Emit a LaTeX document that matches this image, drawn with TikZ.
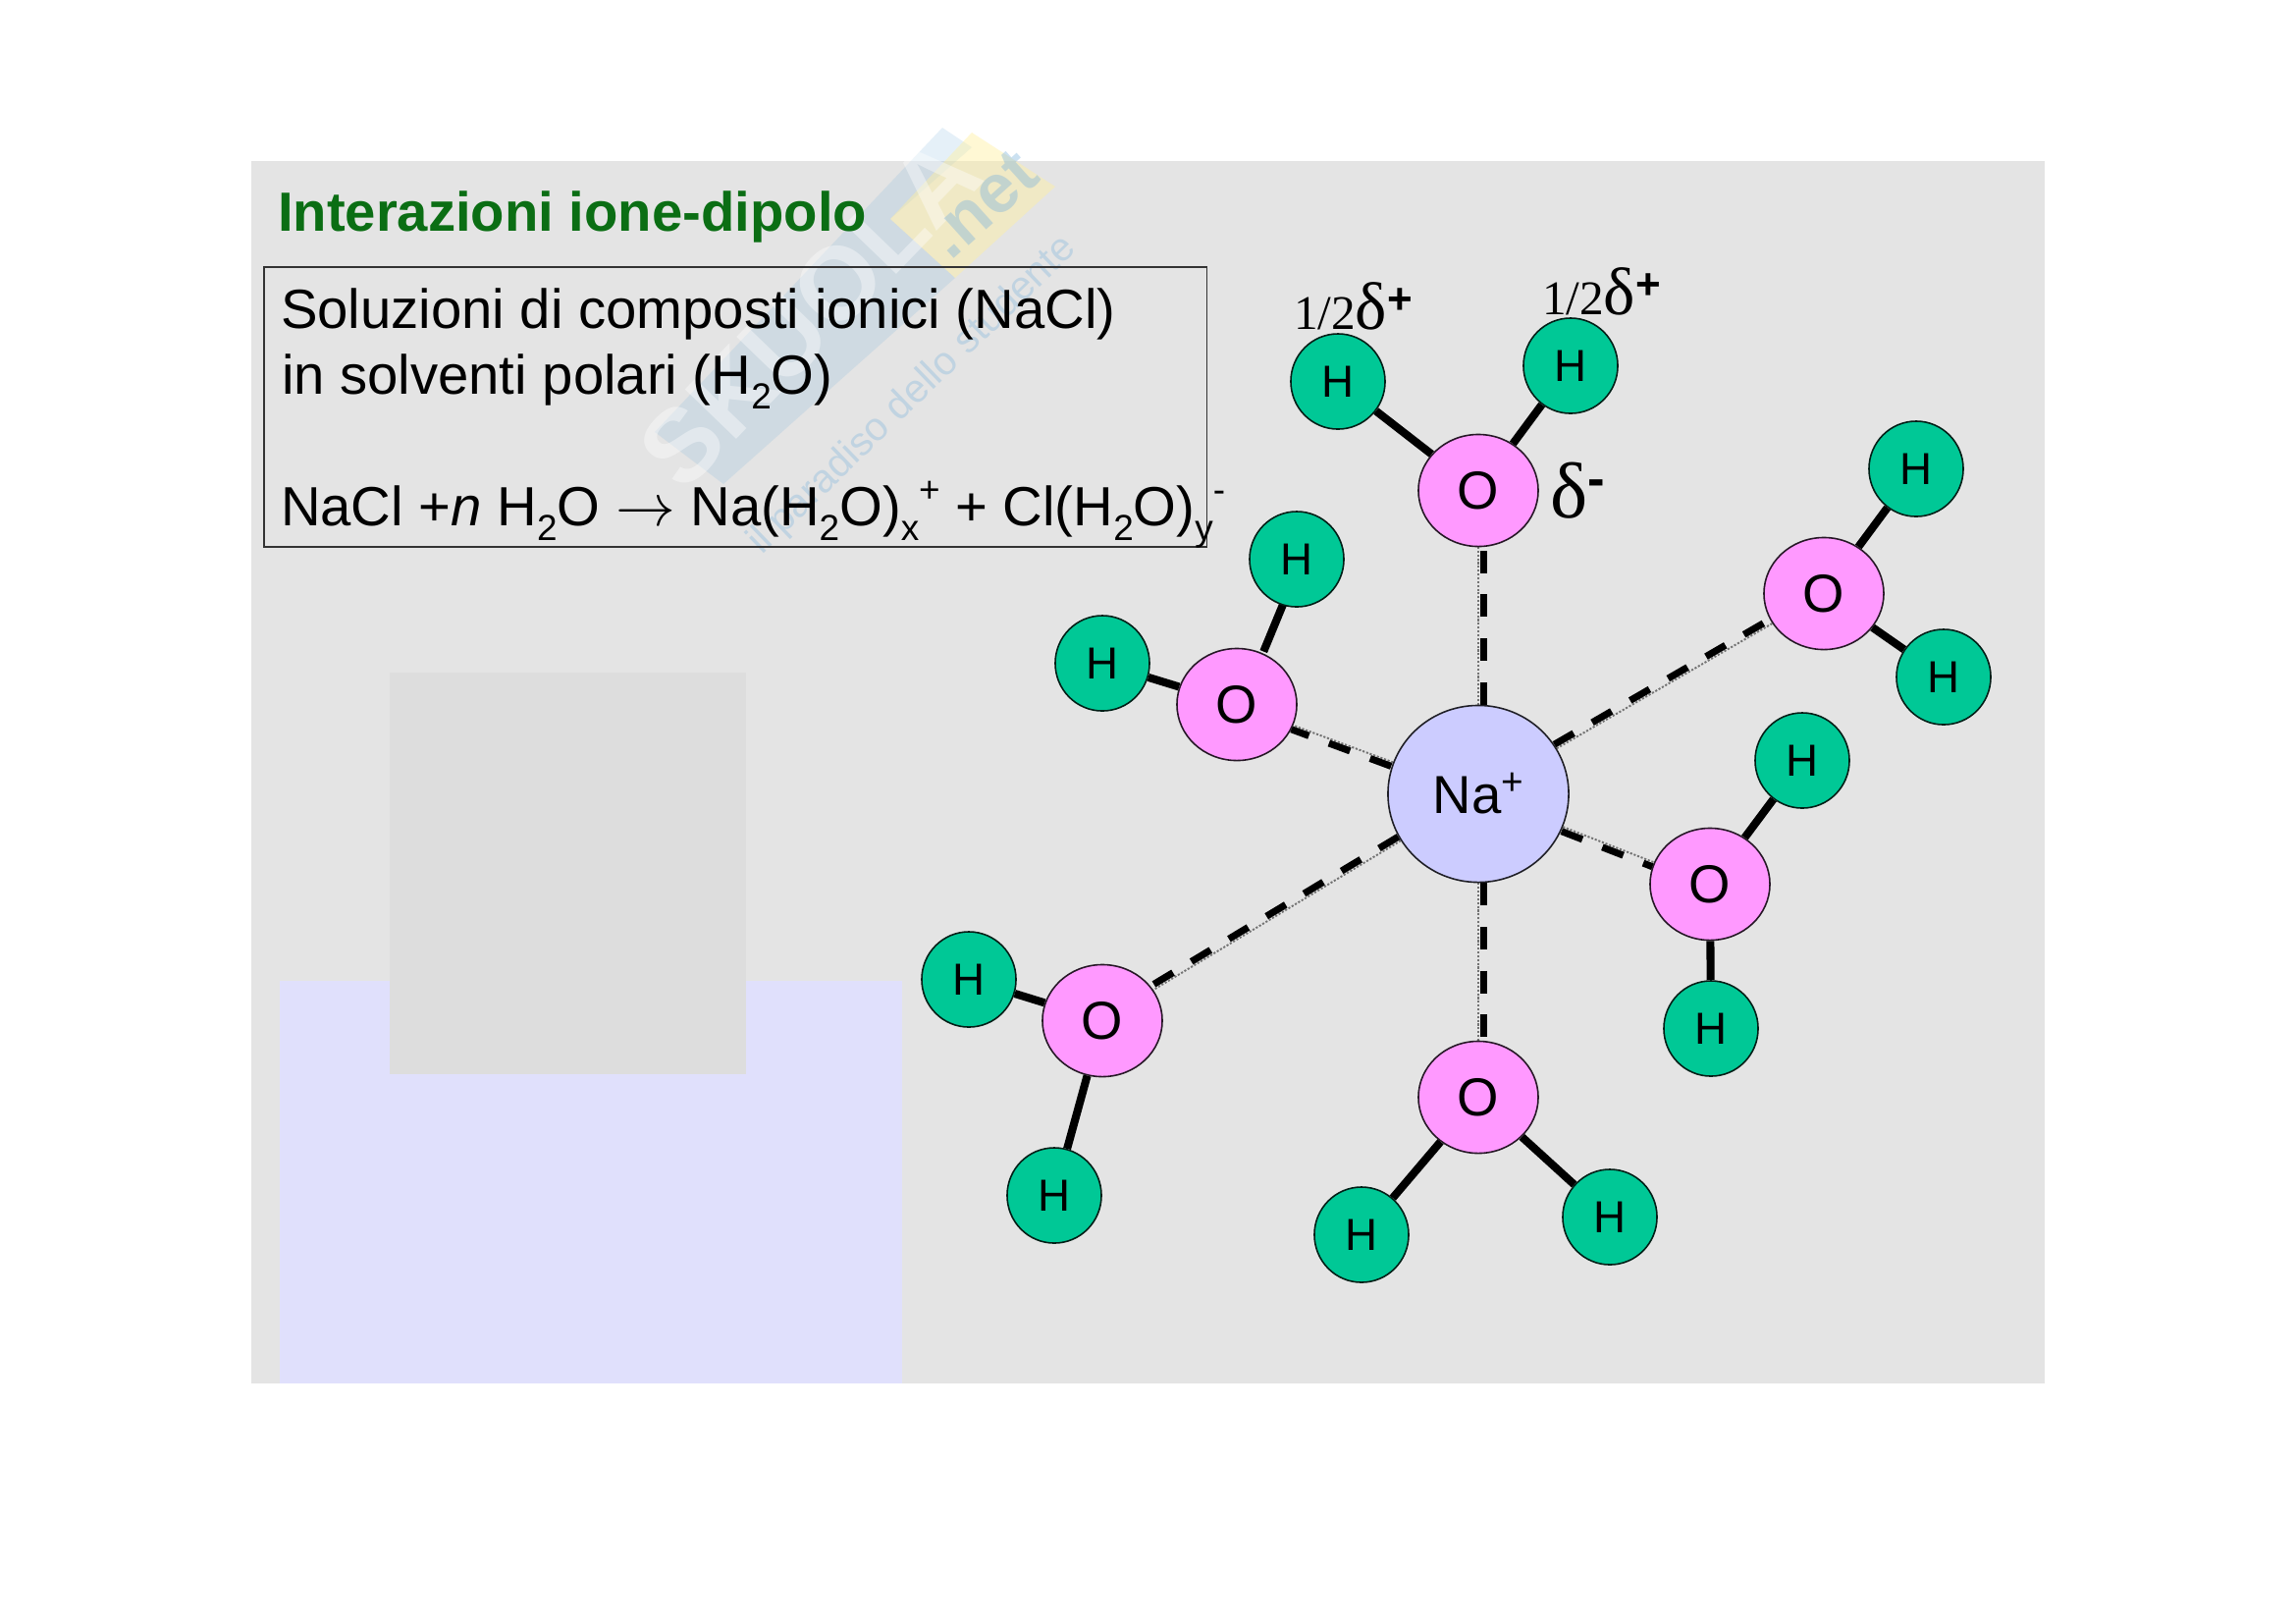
\documentclass[tikz,border=0pt]{standalone}
\usepackage{fontspec}
\setmainfont{Liberation Sans}
\newfontfamily\tms{Liberation Serif}
\usetikzlibrary{shapes.geometric}
\pgfdeclarelayer{backlayer}
\pgfdeclarelayer{bondlayer}
\pgfsetlayers{backlayer,bondlayer,main}
\definecolor{panelc}{HTML}{E4E4E4}
\definecolor{innerc}{HTML}{DDDDDD}
\definecolor{bluec}{HTML}{E0E0FC}
\definecolor{hc}{HTML}{00C896}
\definecolor{oc}{HTML}{FF99FF}
\definecolor{nac}{HTML}{CCCCFF}
\definecolor{titlec}{HTML}{0B6E14}
\definecolor{wmblue}{HTML}{7FB4DC}
\definecolor{wmyellow}{HTML}{FFF0A0}
\newcommand{\dn}[1]{\raisebox{-.28em}{\fontsize{10.5}{12}\selectfont #1}}
\newcommand{\upp}[1]{\raisebox{.42em}{\fontsize{10.5}{12}\selectfont #1}}
\newcommand{\fs}[1]{\fontsize{#1}{#1}\selectfont}
\tikzset{
  x=0.01cm,y=-0.01cm,
  hatom/.style={ellipse,draw=black!85!hc,line width=.45pt,fill=hc,minimum width=.96cm,minimum height=.97cm,inner sep=0pt,font=\fs{13}},
  oatom/.style={ellipse,draw=black!85!oc,line width=.45pt,fill=oc,minimum width=1.22cm,minimum height=1.14cm,inner sep=0pt,font=\fs{15.5}},
  naatom/.style={ellipse,draw=black!85!nac,line width=.45pt,fill=nac,minimum width=1.84cm,minimum height=1.80cm,inner sep=0pt,font=\fs{15.5}},
  bond/.style={line width=2.3pt,black},
  dotbond/.style={line width=.55pt,black!55,dash pattern=on .6pt off .5pt},
  dashbond/.style={line width=2pt,black,dash pattern=on 6.5pt off 6.2pt},
  txt/.style={anchor=base west,inner sep=0pt,outer sep=0pt,font=\fs{16},black},
  lab/.style={anchor=base west,inner sep=0pt,outer sep=0pt,black},
}
\begin{document}
\begin{tikzpicture}
\useasboundingbox (0,0) rectangle (2339,1653);
% panels
\begin{pgfonlayer}{backlayer}
\fill[white] (0,0) rectangle (2339,1653);
\fill[panelc] (256,164) rectangle (2083,1409);
\fill[bluec] (285,999) rectangle (919,1409);
\fill[innerc] (397,685) rectangle (760,1094);
% watermark
\fill[wmblue,opacity=.2] (667,440) -- (960,130) -- (990,150) -- (907,223) -- (973,283) -- (737,493) -- cycle;
\fill[wmyellow,opacity=.45] (907,223) -- (990,135) -- (1075,190) -- (973,283) -- cycle;
\node[rotate=46,text=white,opacity=.4,font=\fs{30}\bfseries,inner sep=0pt] (wmname) at (825,318) {SKUOLA};
\node[rotate=42,text=wmblue,opacity=.4,font=\fs{20}\bfseries,inner sep=0pt] (wmnet) at (1000,208) {.net};
\node[rotate=44,text=wmblue,opacity=.35,font=\fs{11.5},inner sep=0pt] (wmtag) at (930,403) {il paradiso dello studente};
\end{pgfonlayer}
% title and box
\node[lab,text=titlec,font=\fs{16}\bfseries] (title) at (283,235) {Interazioni ione-dipolo};
\node[draw=black!80,line width=.5pt,minimum width=9.6cm,minimum height=2.85cm,anchor=north west,inner sep=0pt] (box) at (268,271) {};
\node[txt] (l1) at (286,334) {Soluzioni di composti ionici (NaCl)};
\node[txt] (l2) at (287,401) {in solventi polari (H\dn{2}O)};
\node[txt] (l3) at (286,535) {NaCl +\textit{n} H\dn{2}O $\rightarrow$ Na(H\dn{2}O)\dn{x}\upp{+} + Cl(H\dn{2}O)\dn{y}\upp{-}};
% atoms
\begin{scope}[xshift=.01cm,yshift=-.015cm]
\node[naatom] (na) at (1505,807) {Na\raisebox{.35em}{\fs{11}+}};
\node[oatom] (o1) at (1505,498) {O};
\node[hatom] (h1a) at (1362,387) {H};
\node[hatom] (h1b) at (1599,371) {H};
\node[oatom] (o2) at (1857,603) {O};
\node[hatom] (h2a) at (1951,476) {H};
\node[hatom] (h2b) at (1979,688) {H};
\node[oatom] (o3) at (1741,899) {O};
\node[hatom] (h3a) at (1835,773) {H};
\node[hatom] (h3b) at (1742,1046) {H};
\node[oatom] (o4) at (1505,1116) {O};
\node[hatom] (h4a) at (1386,1256) {H};
\node[hatom] (h4b) at (1639,1238) {H};
\node[oatom] (o5) at (1122,1038) {O};
\node[hatom] (h5a) at (986,996) {H};
\node[hatom] (h5b) at (1073,1216) {H};
\node[oatom] (o6) at (1259,716) {O};
\node[hatom] (h6a) at (1320,568) {H};
\node[hatom] (h6b) at (1122,674) {H};
\end{scope}
% bonds
\begin{pgfonlayer}{bondlayer}
\foreach \a/\b in {o1/h1a,o1/h1b,o2/h2a,o2/h2b,o3/h3a,o3/h3b,o4/h4a,o4/h4b,o5/h5a,o5/h5b,o6/h6b}
  \draw[bond] (\a) -- (\b);
\draw[bond,transform canvas={xshift=.05cm}] (o6) -- (h6a);
\foreach \b in {o1,o2,o3,o4,o5,o6}
  \draw[dotbond] (na) -- (\b);
\draw[dashbond,transform canvas={xshift=.05cm}] (na) -- (o1);
\draw[dashbond,transform canvas={xshift=.05cm}] (na) -- (o4);
\draw[dashbond,transform canvas={xshift=-.025cm,yshift=.04cm}] (na) -- (o2);
\draw[dashbond,transform canvas={xshift=-.025cm,yshift=.04cm}] (na) -- (o5);
\draw[dashbond,transform canvas={xshift=-.015cm,yshift=-.045cm}] (na) -- (o3);
\draw[dashbond,transform canvas={xshift=-.02cm,yshift=-.04cm}] (na) -- (o6);
\end{pgfonlayer}
% charges
\node[lab] (q1) at (1318,335) {\tms\fs{14}1/2\fs{19.5}δ\raisebox{.22em}{\rmfamily\bfseries\fs{12.5}+}};
\node[lab] (q2) at (1571,320) {\tms\fs{14}1/2\fs{19.5}δ\raisebox{.22em}{\rmfamily\bfseries\fs{12.5}+}};
\node[lab] (q3) at (1579,527) {\tms\fs{23}δ\raisebox{.27em}{\rmfamily\bfseries\fs{15}-}};
\end{tikzpicture}
\end{document}
